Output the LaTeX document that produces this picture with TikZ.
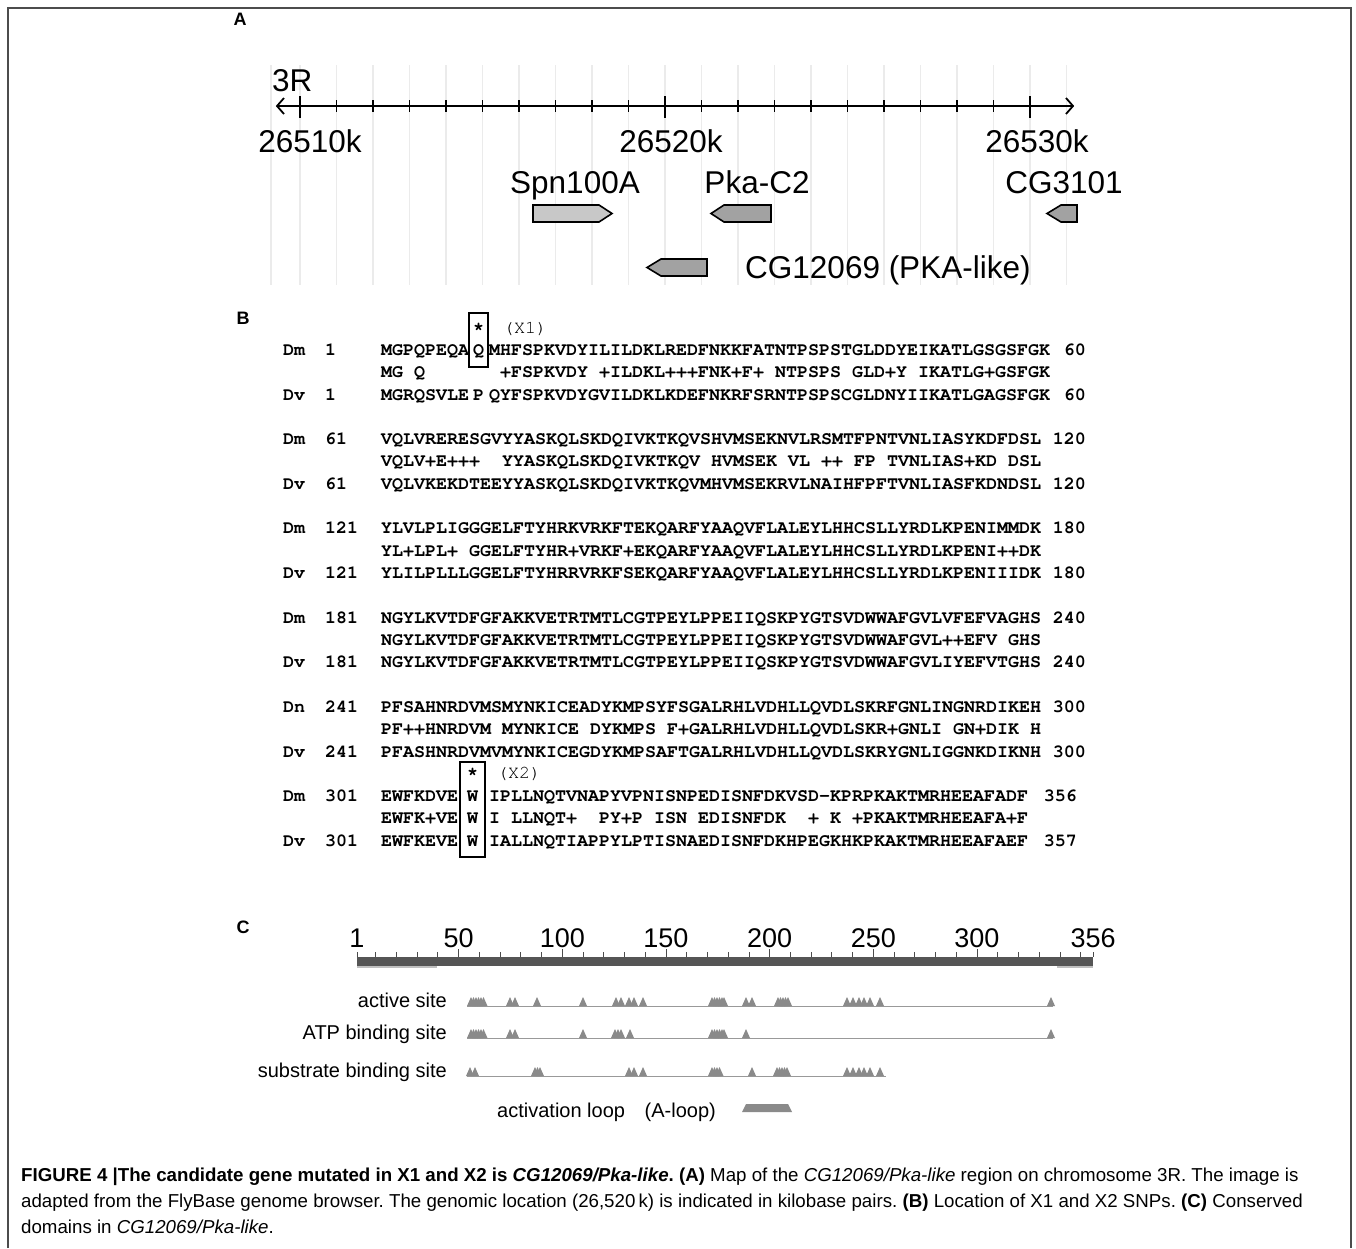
\documentclass[tikz,border=0pt]{standalone}
\usepackage{fontspec}
\setmainfont{Liberation Sans}
\newfontfamily\seqfont{TeX Gyre Cursor}
\definecolor{genelight}{HTML}{C8C8C8}
\definecolor{genedark}{HTML}{A2A2A2}
\definecolor{bardark}{HTML}{555555}
\definecolor{trigray}{HTML}{8A8A8A}
\newcommand\mytri[2]{\fill[trigray] ({#1-4},#2) -- (#1,{#2-9}) -- ({#1+4},#2) -- cycle;}
\frenchspacing
\begin{document}
\begin{tikzpicture}[x=1pt,y=-1pt,
  frameline/.style={draw=black!70,line width=2pt},
  gridline/.style={draw=black!8,line width=1.2pt},
  axisline/.style={draw=black,line width=1.8pt},
  alab/.style={font=\fontsize{31.5}{31.5}\selectfont,inner sep=0pt,anchor=base},
  genebox/.style={draw=black,line width=1.6pt},
  seqtxt/.style={font=\seqfont\bfseries\fontsize{18.33}{18.33}\selectfont,inner sep=0pt,anchor=base west},
  seqplain/.style={font=\seqfont\fontsize{18.33}{18.33}\selectfont,inner sep=0pt,anchor=base west},
  panel/.style={font=\bfseries\fontsize{18}{18}\selectfont,inner sep=0pt,anchor=base},
  snpbox/.style={draw=black,line width=1.2pt},
  clab/.style={font=\fontsize{27}{27}\selectfont,inner sep=0pt,anchor=base},
  tlab/.style={font=\fontsize{20}{20}\selectfont,inner sep=0pt,anchor=base east},
  track/.style={draw=black!40,line width=1pt},
  capt/.style={font=\fontsize{18.7}{18.7}\selectfont\frenchspacing,inner sep=0pt,anchor=base west},
]
\useasboundingbox (0,0) rectangle (1356,1248);
\fill[white] (0,0) rectangle (1356,1248);
\draw[frameline] (8,1248) -- (8,8) -- (1351,8) -- (1351,1248);

% ---------------- Panel A ----------------
\node[panel] (pA) at (240,25) {A};
\draw[gridline] (271,65) -- (271,285);
\foreach \k in {0,...,21} \draw[gridline] ({300+36.5*\k},65) -- ({300+36.5*\k},285);
\node[alab,anchor=base west] (chr) at (272,91) {3R};
\coordinate (axL) at (277,106);
\coordinate (axR) at (1073,106);
\draw[axisline] (axL) -- (axR);
\draw[axisline] (284,98) -- (axL) -- (284,114);
\draw[axisline] (1066,98) -- (axR) -- (1066,114);
\foreach \k in {1,...,9,11,12,...,19} \draw[line width=1.5pt] ({300+36.5*\k},100) -- ({300+36.5*\k},112);
\foreach \k in {0,10,20} \draw[line width=1.5pt] ({300+36.5*\k},96) -- ({300+36.5*\k},118);
\node[alab] (k10) at (310,152) {26510k};
\node[alab] (k20) at (671,152) {26520k};
\node[alab] (k30) at (1037,152) {26530k};
\node[alab] (spnl) at (575,193) {Spn100A};
\node[alab] (pkal) at (757,193) {Pka-C2};
\node[alab] (cg31l) at (1064,193) {CG3101};
\draw[genebox,fill=genelight] (533,205) -- (599,205) -- (612,213.5) -- (599,222) -- (533,222) -- cycle;
\draw[genebox,fill=genedark] (771,205) -- (724,205) -- (711,213.5) -- (724,222) -- (771,222) -- cycle;
\draw[genebox,fill=genedark] (1077,205) -- (1061,205) -- (1047,213.5) -- (1061,222) -- (1077,222) -- cycle;
\draw[genebox,fill=genedark] (707,259) -- (661,259) -- (647,267.5) -- (661,276) -- (707,276) -- cycle;
\node[alab,anchor=base west] (cgl) at (745,278) {CG12069 (PKA-like)};

% ---------------- Panel B ----------------
\node[panel] (pB) at (243,324) {B};
% block 1
\node[seqtxt,anchor=base] (x1s) at (478.5,334) {*};
\node[seqplain] (x1l) at (503,333) {(X1)};
\draw[snpbox] (469,313) rectangle (488,367);
\node[seqtxt] (r1a) at (283,355.2) {Dm};
\node[seqtxt] (r1b) at (325,355.2) {1};
\node[seqtxt] (r1c) at (381,355.2) {MGPQPEQA};
\node[seqtxt,anchor=base] (r1d) at (478.5,355.2) {Q};
\node[seqtxt] (r1e) at (489,355.2) {MHFSPKVDYILILDKLREDFNKKFATNTPSPSTGLDDYEIKATLGSGSFGK};
\node[seqtxt,anchor=base east] (r1f) at (1086,355.2) {60};
\node[seqtxt] (m1a) at (381,377.6) {MG~Q};
\node[seqtxt] (m1b) at (500,377.6) {+FSPKVDY~+ILDKL+++FNK+F+~NTPSPS~GLD+Y~IKATLG+GSFGK};
\node[seqtxt] (v1a) at (283,400) {Dv};
\node[seqtxt] (v1b) at (325,400) {1};
\node[seqtxt] (v1c) at (381,400) {MGRQSVLE};
\node[seqtxt,anchor=base] (v1d) at (478.5,400) {P};
\node[seqtxt] (v1e) at (489,400) {QYFSPKVDYGVILDKLKDEFNKRFSRNTPSPSCGLDNYIIKATLGAGSFGK};
\node[seqtxt,anchor=base east] (v1f) at (1086,400) {60};
% block 2
\node[seqtxt] (r2a) at (283,444.5) {Dm};
\node[seqtxt] (r2b) at (325,444.5) {61};
\node[seqtxt] (r2c) at (381,444.5) {VQLVRERESGVYYASKQLSKDQIVKTKQVSHVMSEKNVLRSMTFPNTVNLIASYKDFDSL};
\node[seqtxt,anchor=base east] (r2f) at (1086,444.5) {120};
\node[seqtxt] (m2) at (381,466.9) {VQLV+E+++~~YYASKQLSKDQIVKTKQV~HVMSEK~VL~++~FP~TVNLIAS+KD~DSL};
\node[seqtxt] (v2a) at (283,489.3) {Dv};
\node[seqtxt] (v2b) at (325,489.3) {61};
\node[seqtxt] (v2c) at (381,489.3) {VQLVKEKDTEEYYASKQLSKDQIVKTKQVMHVMSEKRVLNAIHFPFTVNLIASFKDNDSL};
\node[seqtxt,anchor=base east] (v2f) at (1086,489.3) {120};
% block 3
\node[seqtxt] (r3a) at (283,533.7) {Dm};
\node[seqtxt] (r3b) at (325,533.7) {121};
\node[seqtxt] (r3c) at (381,533.7) {YLVLPLIGGGELFTYHRKVRKFTEKQARFYAAQVFLALEYLHHCSLLYRDLKPENIMMDK};
\node[seqtxt,anchor=base east] (r3f) at (1086,533.7) {180};
\node[seqtxt] (m3) at (381,556.1) {YL+LPL+~GGELFTYHR+VRKF+EKQARFYAAQVFLALEYLHHCSLLYRDLKPENI++DK};
\node[seqtxt] (v3a) at (283,578.5) {Dv};
\node[seqtxt] (v3b) at (325,578.5) {121};
\node[seqtxt] (v3c) at (381,578.5) {YLILPLLLGGELFTYHRRVRKFSEKQARFYAAQVFLALEYLHHCSLLYRDLKPENIIIDK};
\node[seqtxt,anchor=base east] (v3f) at (1086,578.5) {180};
% block 4
\node[seqtxt] (r4a) at (283,623) {Dm};
\node[seqtxt] (r4b) at (325,623) {181};
\node[seqtxt] (r4c) at (381,623) {NGYLKVTDFGFAKKVETRTMTLCGTPEYLPPEIIQSKPYGTSVDWWAFGVLVFEFVAGHS};
\node[seqtxt,anchor=base east] (r4f) at (1086,623) {240};
\node[seqtxt] (m4) at (381,645.4) {NGYLKVTDFGFAKKVETRTMTLCGTPEYLPPEIIQSKPYGTSVDWWAFGVL++EFV~GHS};
\node[seqtxt] (v4a) at (283,667.8) {Dv};
\node[seqtxt] (v4b) at (325,667.8) {181};
\node[seqtxt] (v4c) at (381,667.8) {NGYLKVTDFGFAKKVETRTMTLCGTPEYLPPEIIQSKPYGTSVDWWAFGVLIYEFVTGHS};
\node[seqtxt,anchor=base east] (v4f) at (1086,667.8) {240};
% block 5
\node[seqtxt] (r5a) at (283,712.2) {Dn};
\node[seqtxt] (r5b) at (325,712.2) {241};
\node[seqtxt] (r5c) at (381,712.2) {PFSAHNRDVMSMYNKICEADYKMPSYFSGALRHLVDHLLQVDLSKRFGNLINGNRDIKEH};
\node[seqtxt,anchor=base east] (r5f) at (1086,712.2) {300};
\node[seqtxt] (m5) at (381,734.6) {PF++HNRDVM~MYNKICE~DYKMPS~F+GALRHLVDHLLQVDLSKR+GNLI~GN+DIK~H};
\node[seqtxt] (v5a) at (283,757) {Dv};
\node[seqtxt] (v5b) at (325,757) {241};
\node[seqtxt] (v5c) at (381,757) {PFASHNRDVMVMYNKICEGDYKMPSAFTGALRHLVDHLLQVDLSKRYGNLIGGNKDIKNH};
\node[seqtxt,anchor=base east] (v5f) at (1086,757) {300};
% block 6
\node[seqtxt,anchor=base] (x2s) at (472.5,779) {*};
\node[seqplain] (x2l) at (497,778.5) {(X2)};
\draw[snpbox] (460,762) rectangle (485,857);
\node[seqtxt] (r6a) at (283,801.5) {Dm};
\node[seqtxt] (r6b) at (325,801.5) {301};
\node[seqtxt] (r6c) at (381,801.5) {EWFKDVE};
\node[seqtxt,anchor=base] (r6d) at (472.5,801.5) {W};
\node[seqtxt] (r6e) at (489,801.5) {IPLLNQTVNAPYVPNISNPEDISNFDKVSD-KPRPKAKTMRHEEAFADF};
\node[seqtxt,anchor=base east] (r6f) at (1077,801.5) {356};
\node[seqtxt] (m6a) at (381,823.9) {EWFK+VE};
\node[seqtxt,anchor=base] (m6b) at (472.5,823.9) {W};
\node[seqtxt] (m6c) at (489,823.9) {I~LLNQT+~~PY+P~ISN~EDISNFDK~~+~K~+PKAKTMRHEEAFA+F};
\node[seqtxt] (v6a) at (283,846.3) {Dv};
\node[seqtxt] (v6b) at (325,846.3) {301};
\node[seqtxt] (v6c) at (381,846.3) {EWFKEVE};
\node[seqtxt,anchor=base] (v6d) at (472.5,846.3) {W};
\node[seqtxt] (v6e) at (489,846.3) {IALLNQTIAPPYLPTISNAEDISNFDKHPEGKHKPKAKTMRHEEAFAEF};
\node[seqtxt,anchor=base east] (v6f) at (1077,846.3) {357};

% ---------------- Panel C ----------------
\node[panel] (pC) at (243,933) {C};
\foreach \r/\t in {1/1,50/50,100/100,150/150,200/200,250/250,300/300,356/356}
  \node[clab] (n\t) at ({357+(\r-1)*2.0735},947) {\t};
\fill[bardark] (357,957) rectangle (1093,966);
\draw[black!25,line width=1.5pt] (357,967) -- (437,967);
\draw[black!25,line width=1.5pt] (1057,967) -- (1093,967);
\foreach \r in {1,10,20,30,40,60,70,80,90,110,120,130,140,160,170,180,190,210,220,230,240,260,270,280,290,310,320,330,340,350,356}
  \draw[black!70,line width=0.8pt] ({357+(\r-1)*2.0735},952) -- ({357+(\r-1)*2.0735},957);
\foreach \r in {50,100,...,300}
  \draw[black!70,line width=0.8pt] ({357+(\r-1)*2.0735},949) -- ({357+(\r-1)*2.0735},957);

\node[tlab] (act) at (447,1007) {active site};
\node[tlab] (atp) at (447,1039) {ATP binding site};
\node[tlab] (sub) at (447,1077) {substrate binding site};
\draw[track] (467,1006) -- (1053,1006);
\draw[track] (467,1038) -- (1053,1038);
\draw[track] (467,1076) -- (886,1076);
\foreach \x in {471,473.5,476,478.5,481,483.5,510,515,537,583,616,621,629,634,643,712,714.5,717,719.5,722,724,746,752,778,780.5,783,785.5,788,847,853,859,864,870,880,1051}
  {\mytri{\x}{1006}}
\foreach \x in {471,473.5,476,478.5,481,483.5,510,515,583,615,618,621,630,712,714.5,717,719.5,722,724,746,1051}
  {\mytri{\x}{1038}}
\foreach \x in {470,475,535,537.5,540,629,634,643,712,714.5,717,719.5,752,777,779.5,782,784.5,787,847,853,859,864,870,880}
  {\mytri{\x}{1076}}
\node[font=\fontsize{20}{20}\selectfont,inner sep=0pt,anchor=base west] (aloop) at (497,1117) {activation loop};
\node[font=\fontsize{20}{20}\selectfont,inner sep=0pt,anchor=base east] (aloopb) at (716,1117) {(A-loop)};
\fill[trigray] (742,1112) -- (746,1104) -- (788,1104) -- (792,1112) -- cycle;

% ---------------- Caption ----------------
\node[capt] (cap1) at (21,1181) {\textbf{FIGURE 4 |The candidate gene mutated in X1 and X2 is \textit{CG12069/Pka-like}. (A)} Map of the \textit{CG12069/Pka-like} region on chromosome 3R. The image is};
\node[capt] (cap2) at (21,1207) {adapted from the FlyBase genome browser. The genomic location (26,520\,k) is indicated in kilobase pairs. \textbf{(B)} Location of X1 and X2 SNPs. \textbf{(C)} Conserved};
\node[capt] (cap3) at (21,1233) {domains in \textit{CG12069/Pka-like}.};
\end{tikzpicture}
\end{document}
